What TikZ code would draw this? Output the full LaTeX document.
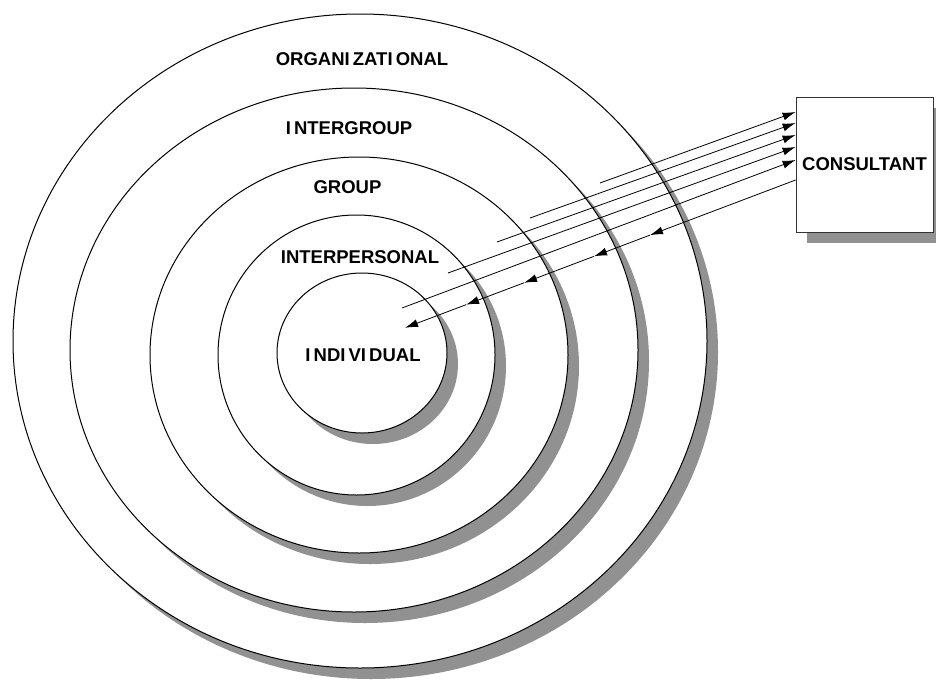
\documentclass[tikz,border=0pt]{standalone}
\usepackage{fontspec}
\setmainfont{Liberation Sans}
\usepackage{tikz}
\usetikzlibrary{arrows.meta, positioning, calc, shapes.geometric, shadows}
\definecolor{shadowgrey}{gray}{0.57}

\tikzset{
  ring/.style={ellipse, draw, fill=white, line width=1pt, inner sep=0pt,
    drop shadow={shadow xshift=11pt, shadow yshift=-11pt, fill=shadowgrey, opacity=1}},
  lbl/.style={font=\bfseries\fontsize{18.5}{20}\selectfont, inner sep=0pt},
  consbox/.style={draw=black!80, fill=white, line width=0.8pt, lbl,
    minimum width=137pt, minimum height=135pt,
    drop shadow={shadow xshift=11pt, shadow yshift=-11pt, fill=shadowgrey, opacity=1}},
}

\begin{document}
\begin{tikzpicture}[x=1pt, y=-1pt, >={Latex[length=13pt, width=8pt]}]
            \useasboundingbox (0,0) rectangle (936,680);

            % Rings, outermost first
            \node[ring, minimum width=694pt, minimum height=654pt] (org) at (360,341) {};
            \node[ring, minimum width=568pt, minimum height=524pt] (intgrp) at (354,350) {};
            \node[ring, minimum width=418pt, minimum height=396pt] (grp) at (359,355) {};
            \node[ring, minimum width=277pt, minimum height=280pt] (intpers) at (356.5,355) {};
            \node[ring, minimum width=170pt, minimum height=160pt] (indiv) at (362,353) {};

            % Labels
            \node[lbl] (org_lbl) at (362,59) {ORGANI\,ZATI\,ONAL};
            \node[lbl] (intgrp_lbl) at (349,128) {I\,NTERGROUP};
            \node[lbl] (grp_lbl) at (347.5,187) {GROUP};
            \node[lbl] (intpers_lbl) at (360,257.5) {INTERPERSONAL};
            \node[lbl] (indiv_lbl) at (363,355) {I\,NDI\,VI\,DUAL};

            \node[consbox] (cons) at (864.5,164.5) {CONSULTANT};

            % Line ends inside the rings
            \coordinate (o1) at (600,183);
            \coordinate (o2) at (530,218);
            \coordinate (o3) at (497,242);
            \coordinate (o4) at (448,273);
            \coordinate (o5) at (402,308);

            \coordinate (i1) at (650,235.1);
            \coordinate (i2) at (594,256.3);
            \coordinate (i3) at (524,282.8);
            \coordinate (i4) at (466,304.7);
            \coordinate (i5) at (405,327.8);

            \draw[->, line width=0.8pt] (o1) -- ([yshift=52.5pt]cons.west);
            \draw[->, line width=0.8pt] (o2) -- ([yshift=41.5pt]cons.west);
            \draw[->, line width=0.8pt] (o3) -- ([yshift=29.5pt]cons.west);
            \draw[->, line width=0.8pt] (o4) -- ([yshift=17.5pt]cons.west);
            \draw[->, line width=0.8pt] (o5) -- ([yshift=4.5pt]cons.west);

            \draw[->, line width=0.8pt] ([yshift=-15.5pt]cons.west) -- (i1);
            \draw[->, line width=0.8pt] (i1) -- (i2);
            \draw[->, line width=0.8pt] (i2) -- (i3);
            \draw[->, line width=0.8pt] (i3) -- (i4);
            \draw[->, line width=0.8pt] (i4) -- (i5);
        \end{tikzpicture}
\end{document}
